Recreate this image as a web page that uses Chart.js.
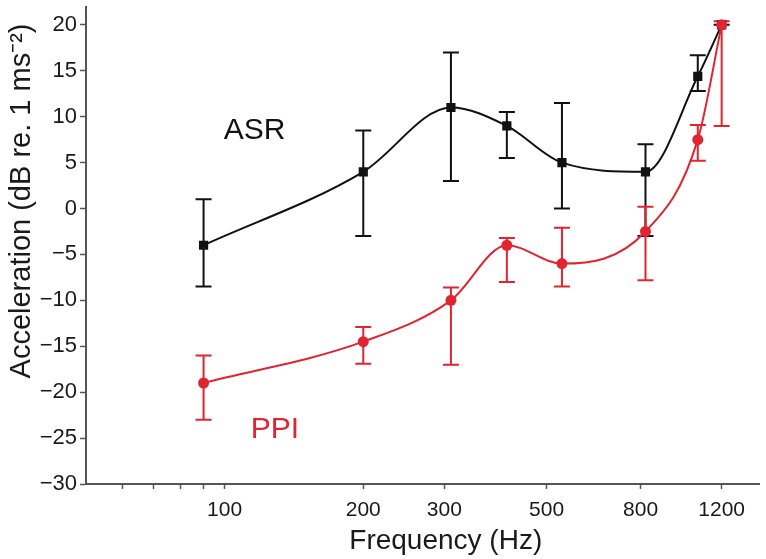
<!DOCTYPE html>
<html>
<head>
<meta charset="utf-8">
<script src="https://cdn.jsdelivr.net/npm/chart.js@4/dist/chart.umd.min.js"></script>
<style>
  body { margin: 0; background: #fff; }
  #wrap { width: 766px; height: 559px; }
</style>
</head>
<body>
<div id="wrap"><canvas id="chart" width="766" height="559"></canvas></div>
<script>
// Частоты (Гц) и значения
const freqs = [90, 200, 310, 410, 540, 820, 1065, 1200];

const asrValues = [-4, 4, 11, 9, 5, 4, 14.4, 20];
const asrLow = [-8.5, -3, 3, 5.5, 0, -3, 12.8, 20];
const asrHigh = [1, 8.5, 17, 10.5, 11.5, 7, 16.7, 20];

const ppiValues = [-19, -14.5, -10, -4, -6, -2.5, 7.5, 20];
const ppiLow = [-23, -16.9, -17, -8, -8.5, -7.8, 5.2, 9];
const ppiHigh = [-16, -12.9, -8.6, -3.2, -2.1, 0.2, 9.1, 20.4];

const xTicks = [60, 70, 80, 90, 100, 200, 300, 500, 800, 1200];
const xLabels = [100, 200, 300, 500, 800, 1200];
const yTicks = [-30, -25, -20, -15, -10, -5, 0, 5, 10, 15, 20];

const seriesLabels = [
  { text: 'ASR', x: 99.5, y: 7.6, color: '#111111' },
  { text: 'PPI', x: 114, y: -25, color: '#e02530' },
];

const RED = '#e02530';
const BLACK = '#111111';
const AXIS = '#555555';
const FONT = "'Liberation Sans', Arial, sans-serif";

function toPoints(values) {
  return values.map((v, i) => ({ x: freqs[i], y: v }));
}

// Рисуем планки погрешностей через шкалы графика
const errorBars = {
  id: 'errorBars',
  beforeDatasetsDraw(chart) {
    const ctx = chart.ctx;
    const xs = chart.scales.x;
    const ys = chart.scales.y;
    const list = [...chart.data.datasets].reverse();
    list.forEach((ds) => {
      ctx.save();
      ctx.strokeStyle = ds.borderColor;
      ctx.lineWidth = 2;
      ds.errLow.forEach((lo, i) => {
        const hi = ds.errHigh[i];
        const x = xs.getPixelForValue(freqs[i]);
        const y1 = ys.getPixelForValue(lo);
        const y2 = ys.getPixelForValue(hi);
        ctx.beginPath();
        ctx.moveTo(x, y1);
        ctx.lineTo(x, y2);
        ctx.moveTo(x - 8, y1);
        ctx.lineTo(x + 8, y1);
        ctx.moveTo(x - 8, y2);
        ctx.lineTo(x + 8, y2);
        ctx.stroke();
      });
      ctx.restore();
    });
  },
};

// Подписи серий и осей
const textLayer = {
  id: 'textLayer',
  afterDraw(chart) {
    const ctx = chart.ctx;
    const xs = chart.scales.x;
    const ys = chart.scales.y;
    const area = chart.chartArea;
    ctx.save();
    ctx.textBaseline = 'alphabetic';
    ctx.textAlign = 'left';
    ctx.font = '30px ' + FONT;
    seriesLabels.forEach((l) => {
      ctx.fillStyle = l.color;
      ctx.fillText(l.text, xs.getPixelForValue(l.x), ys.getPixelForValue(l.y));
    });

    ctx.fillStyle = '#1a1a1a';
    ctx.font = '28px ' + FONT;
    ctx.textAlign = 'center';
    ctx.fillText('Frequency (Hz)', (area.left + area.right) / 2 + 23, 549);

    ctx.font = '29px ' + FONT;
    ctx.translate(30, 201);
    ctx.rotate(-Math.PI / 2);
    ctx.fillText('Acceleration (dB re. 1 ms\u207B\u00B2)', 0, 0);
    ctx.restore();
  },
};

new Chart(document.getElementById('chart'), {
  type: 'line',
  data: {
    datasets: [
      {
        label: 'PPI',
        data: toPoints(ppiValues),
        errLow: ppiLow,
        errHigh: ppiHigh,
        borderColor: RED,
        backgroundColor: RED,
        borderWidth: 2,
        pointStyle: 'circle',
        pointRadius: 5.5,
        pointBorderWidth: 0,
        cubicInterpolationMode: 'monotone',
      },
      {
        label: 'ASR',
        data: toPoints(asrValues),
        errLow: asrLow,
        errHigh: asrHigh,
        borderColor: BLACK,
        backgroundColor: BLACK,
        borderWidth: 2,
        pointStyle: 'rect',
        pointRadius: 6.5,
        pointBorderWidth: 0,
        cubicInterpolationMode: 'monotone',
      },
    ],
  },
  options: {
    responsive: false,
    animation: false,
    layout: { padding: { top: 4, right: 0, left: 0, bottom: 0 } },
    plugins: {
      legend: { display: false },
      tooltip: { enabled: false },
    },
    scales: {
      x: {
        type: 'logarithmic',
        min: 50,
        max: 1450,
        afterBuildTicks: (scale) => {
          scale.ticks = xTicks.map((v) => ({ value: v }));
        },
        afterFit: (scale) => {
          scale.height = 75;
          scale.paddingLeft = 0;
          scale.paddingRight = 0;
        },
        grid: {
          drawOnChartArea: false,
          drawTicks: true,
          tickLength: 5,
          tickColor: AXIS,
          tickWidth: 1.5,
        },
        border: { color: AXIS, width: 2 },
        ticks: {
          autoSkip: false,
          maxRotation: 0,
          padding: 9,
          color: '#1a1a1a',
          font: { family: FONT, size: 21 },
          callback: (v) => (xLabels.includes(v) ? String(v) : ''),
        },
      },
      y: {
        type: 'linear',
        min: -30,
        max: 22,
        afterBuildTicks: (scale) => {
          scale.ticks = yTicks.map((v) => ({ value: v }));
        },
        afterFit: (scale) => {
          scale.width = 86;
          scale.paddingTop = 0;
          scale.paddingBottom = 0;
        },
        grid: {
          drawOnChartArea: false,
          drawTicks: true,
          tickLength: 6,
          tickColor: AXIS,
          tickWidth: 1.5,
        },
        border: { color: AXIS, width: 2 },
        ticks: {
          padding: 3,
          color: '#1a1a1a',
          font: { family: FONT, size: 22 },
          callback: (v) => (v < 0 ? '\u2212' + Math.abs(v) : String(v)),
        },
      },
    },
  },
  plugins: [errorBars, textLayer],
});
</script>
</body>
</html>
